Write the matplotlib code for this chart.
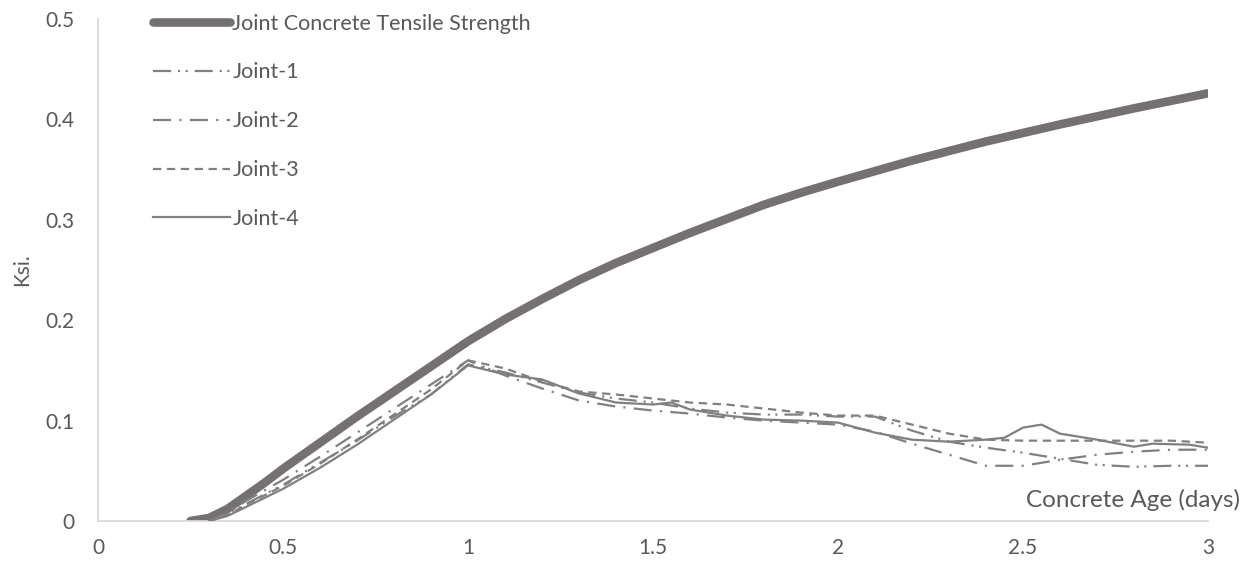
import matplotlib
matplotlib.use("Agg")
import matplotlib.pyplot as plt

plt.rcParams["font.family"] = ["Lato", "DejaVu Sans"]
plt.rcParams["lines.scale_dashes"] = False

# Tensile strength development of the joint concrete (ksi) vs age (days)
age_strength = [0.25, 0.30, 0.35, 0.40, 0.45, 0.50, 0.60, 0.70, 0.80, 0.90, 1.00,
                1.10, 1.20, 1.30, 1.40, 1.50, 1.60, 1.70, 1.80, 1.90, 2.00,
                2.20, 2.40, 2.60, 2.80, 3.00]
tensile_strength = [0.000, 0.003, 0.012, 0.025, 0.038, 0.052, 0.078, 0.104, 0.129, 0.154, 0.179,
                    0.201, 0.221, 0.240, 0.257, 0.272, 0.287, 0.301, 0.315, 0.327, 0.338,
                    0.359, 0.378, 0.395, 0.411, 0.426]

# Measured joint stresses (ksi)
age_rise = [0.30, 0.35, 0.40, 0.50, 0.60, 0.70, 0.80, 0.90, 1.00]
age_fall = [1.10, 1.20, 1.30, 1.40, 1.50, 1.60, 1.70, 1.80, 1.90, 2.00,
            2.10, 2.20, 2.30, 2.40, 2.50, 2.60, 2.70, 2.80, 2.90, 3.00]
age_joint = age_rise + age_fall

joint1 = [0.000, 0.007, 0.017, 0.036, 0.058, 0.080, 0.104, 0.126, 0.156,
          0.148, 0.138, 0.128, 0.122, 0.118, 0.112, 0.108, 0.106, 0.106, 0.104,
          0.104, 0.090, 0.079, 0.073, 0.068, 0.062, 0.056, 0.054, 0.055, 0.055]
joint2 = [0.000, 0.008, 0.020, 0.041, 0.064, 0.088, 0.112, 0.136, 0.160,
          0.145, 0.132, 0.120, 0.114, 0.110, 0.107, 0.103, 0.100, 0.098, 0.096,
          0.089, 0.077, 0.066, 0.055, 0.055, 0.061, 0.066, 0.069, 0.071, 0.071]
joint3 = [0.000, 0.006, 0.016, 0.035, 0.057, 0.081, 0.106, 0.131, 0.160,
          0.152, 0.139, 0.129, 0.126, 0.122, 0.118, 0.116, 0.112, 0.108, 0.105,
          0.105, 0.096, 0.087, 0.081, 0.080, 0.080, 0.080, 0.080, 0.080, 0.078]

age_joint4 = [0.30, 0.35, 0.40, 0.50, 0.60, 0.70, 0.80, 0.90, 1.00,
              1.10, 1.20, 1.30, 1.40, 1.50, 1.55, 1.60, 1.70, 1.80, 1.90, 2.00,
              2.10, 2.20, 2.30, 2.40, 2.45, 2.50, 2.55, 2.60, 2.70, 2.80, 2.85, 2.95, 3.00]
joint4 = [0.000, 0.005, 0.014, 0.032, 0.053, 0.076, 0.101, 0.126, 0.155,
          0.146, 0.141, 0.127, 0.118, 0.116, 0.118, 0.111, 0.105, 0.101, 0.100, 0.098,
          0.088, 0.081, 0.079, 0.081, 0.083, 0.093, 0.096, 0.087, 0.081, 0.074, 0.077, 0.076, 0.073]

x_ticks = [0, 0.5, 1, 1.5, 2, 2.5, 3]
x_tick_labels = ["0", "0.5", "1", "1.5", "2", "2.5", "3"]
y_ticks = [0, 0.1, 0.2, 0.3, 0.4, 0.5]
y_tick_labels = ["0", "0.1", "0.2", "0.3", "0.4", "0.5"]

thick_color = "#767171"
joint_color = "#808080"
text_color = "#595959"
spine_color = "#d9d9d9"

fig = plt.figure(figsize=(12.54, 5.75), dpi=100)
ax = fig.add_axes([98 / 1254, 54 / 575, 1110 / 1254, 502 / 575])

ax.plot(age_strength, tensile_strength, color=thick_color, lw=6.2,
        solid_capstyle="round", label="Joint Concrete Tensile Strength", zorder=2)
ax.plot(age_joint, joint1, color=joint_color, lw=1.6,
        linestyle=(0, (13, 5, 1.5, 4, 1.5, 5)), label="Joint-1", zorder=3)
ax.plot(age_joint, joint2, color=joint_color, lw=1.6,
        linestyle=(0, (13, 6, 1.5, 6)), label="Joint-2", zorder=3)
ax.plot(age_joint, joint3, color=joint_color, lw=1.6,
        linestyle=(0, (6, 4)), label="Joint-3", zorder=3)
ax.plot(age_joint4, joint4, color=joint_color, lw=1.6,
        linestyle="-", label="Joint-4", zorder=3)

ax.set_xlim(0, 3)
ax.set_ylim(0, 0.5)
ax.set_xticks(x_ticks)
ax.set_xticklabels(x_tick_labels)
ax.set_yticks(y_ticks)
ax.set_yticklabels(y_tick_labels)
ax.tick_params(length=0, labelsize=15, colors=text_color)
ax.tick_params(axis="y", pad=17)
ax.tick_params(axis="x", pad=12)

for side in ("top", "right"):
    ax.spines[side].set_visible(False)
for side in ("left", "bottom"):
    ax.spines[side].set_color(spine_color)
    ax.spines[side].set_linewidth(1.3)

ax.text(1.029, 0.042, "Concrete Age (days)", transform=ax.transAxes,
        ha="right", va="center", fontsize=17.5, color=text_color)
fig.text(22 / 1254, 1 - 270 / 575, "Ksi.", rotation=90, ha="center", va="center",
         fontsize=15, color=text_color)

leg = ax.legend(loc="upper left", bbox_to_anchor=(46 / 1110, 1.028), frameon=False,
                fontsize=15.5, handlelength=3.6, handletextpad=0.1,
                labelspacing=1.34, borderaxespad=0)
for t in leg.get_texts():
    t.set_color(text_color)

fig.savefig("out.png", dpi=100)
